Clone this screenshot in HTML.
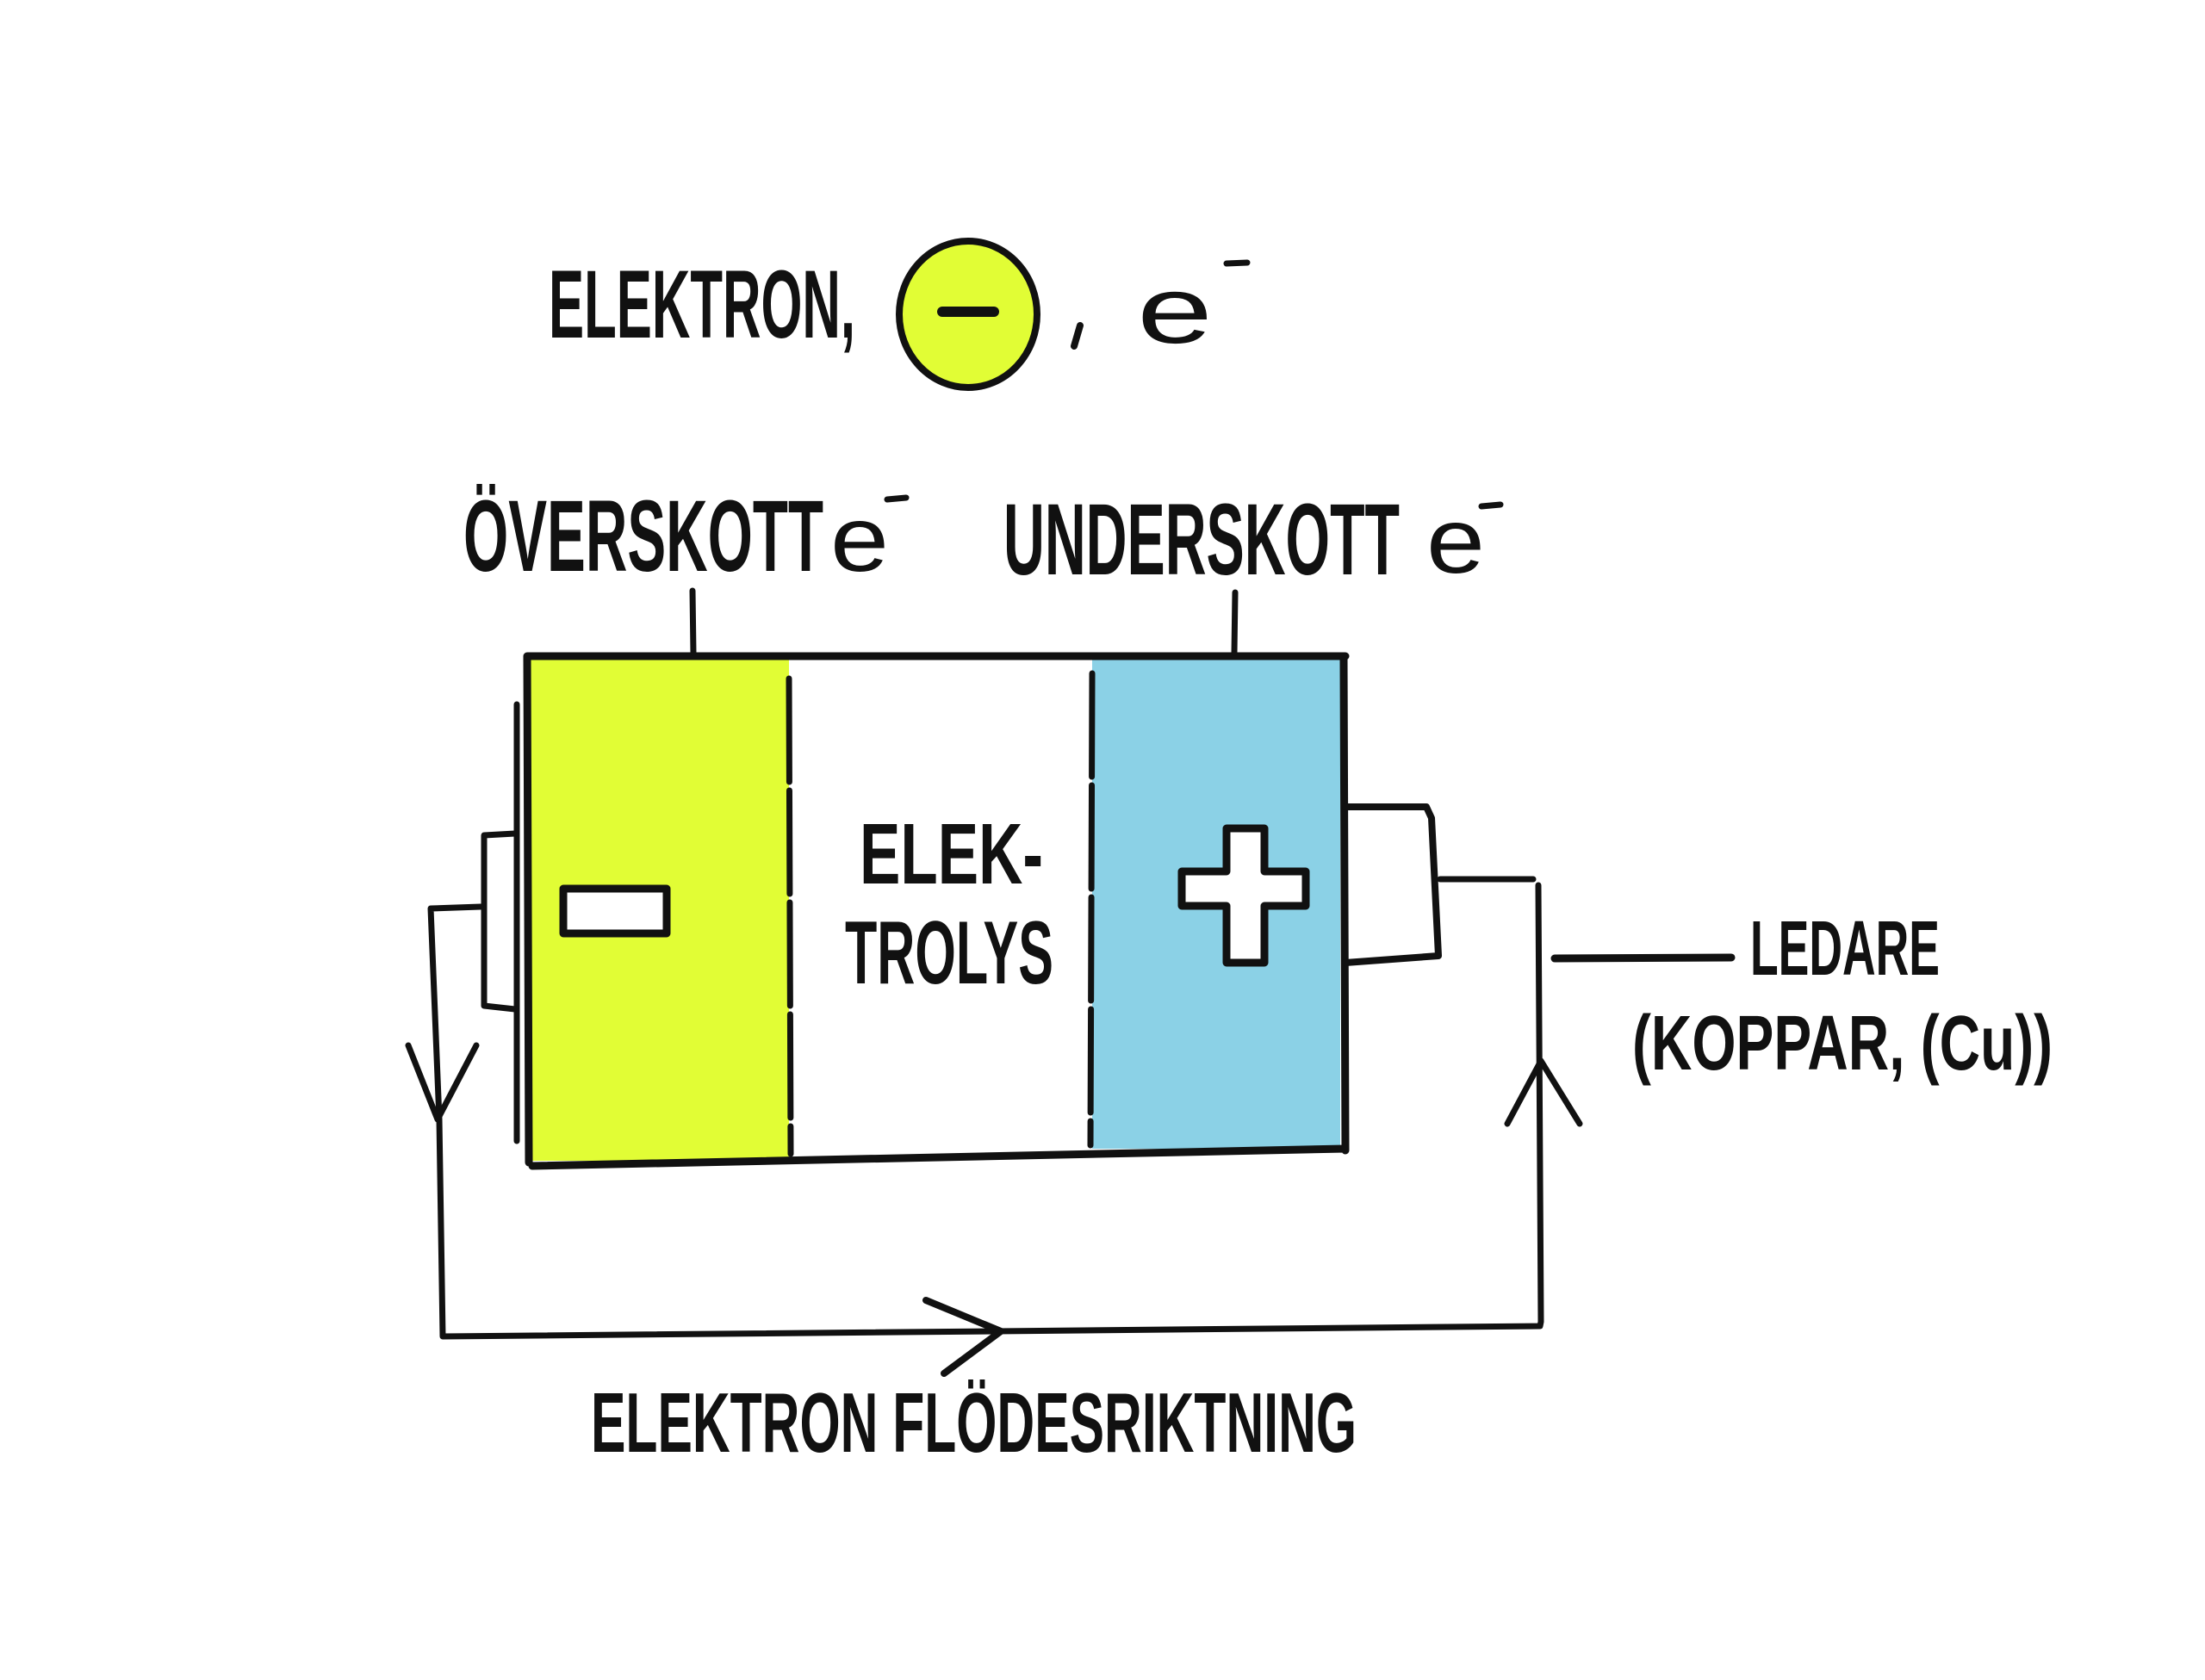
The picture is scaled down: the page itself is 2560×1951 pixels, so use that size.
<!DOCTYPE html>
<html><head><meta charset="utf-8"><style>
html,body{margin:0;padding:0;background:#fff;}
svg{display:block}
text{font-family:"Liberation Sans",sans-serif;font-weight:bold;fill:#111;}
</style></head><body>
<svg width="2560" height="1951" viewBox="0 0 2560 1951" xmlns="http://www.w3.org/2000/svg">
<rect width="2560" height="1951" fill="#fff"/>
<g stroke="#111" stroke-linecap="round" stroke-linejoin="round" fill="none">
<rect x="614" y="766" width="302" height="582" fill="#e1fd35" stroke="none"/>
<rect x="1268" y="766" width="288" height="568" fill="#8bd1e6" stroke="none"/>
<path d="M612 762 L1562 762 M612 762 L614 1350 M1560 764 L1562 1336 M618 1354 L1562 1334" stroke-width="9"/>
<path d="M916 788 L918 1340" stroke-width="7" stroke-dasharray="120 10"/>
<path d="M1268 782 L1266 1330" stroke-width="7" stroke-dasharray="120 10"/>
<path d="M804 686 L805 758 M1434 688 L1433 758" stroke-width="7"/>
<path d="M600 818 L600 1325" stroke-width="7"/>
<path d="M598 968 L562 970 L562 1168 L598 1172" stroke-width="7"/>
<rect x="654" y="1032" width="120" height="52" fill="#fff" stroke-width="9"/>
<path d="M1424 962 L1468 962 L1468 1012 L1516 1012 L1516 1052 L1468 1052 L1468 1118 L1424 1118 L1424 1052 L1372 1052 L1372 1012 L1424 1012 Z" fill="#fff" stroke-width="9"/>
<path d="M1562 937 L1656 937 L1662 950 L1670 1110 L1562 1118" stroke-width="8"/>
<path d="M1672 1021 L1780 1021 M1786 1028 L1789 1535 L1788 1540 L514 1552 L510 1300 L500 1055 L558 1053" stroke-width="7"/>
<path d="M474 1214 L508 1300 L553 1214" stroke-width="7"/>
<path d="M1750 1305 L1789 1232 L1834 1305" stroke-width="7"/>
<path d="M1075 1510 L1162 1546 L1096 1595" stroke-width="8"/>
<path d="M1805 1113 L2010 1112" stroke-width="9"/>
<ellipse cx="1124" cy="365" rx="80" ry="85" fill="#e1fd35" stroke-width="8"/>
<path d="M1094 362 L1154 362" stroke-width="12"/>
<path d="M1254 378 L1247 402" stroke-width="8"/>
<path d="M1424 306 L1448 305" stroke-width="7"/>
<path d="M1030 580 L1052 578" stroke-width="7"/>
<path d="M1720 588 L1742 586" stroke-width="7"/>
</g>
<text x="637" y="392" font-size="112" textLength="356" lengthAdjust="spacingAndGlyphs">ELEKTRON,</text>
<text x="1320" y="398" font-size="110" style="font-weight:normal" textLength="88" lengthAdjust="spacingAndGlyphs">e</text>
<text x="538" y="663" font-size="118" textLength="418" lengthAdjust="spacingAndGlyphs">ÖVERSKOTT</text>
<text x="964" y="663" font-size="108" style="font-weight:normal" textLength="68" lengthAdjust="spacingAndGlyphs">e</text>
<text x="1165" y="667" font-size="118" textLength="460" lengthAdjust="spacingAndGlyphs">UNDERSKOTT</text>
<text x="1656" y="665" font-size="108" style="font-weight:normal" textLength="68" lengthAdjust="spacingAndGlyphs">e</text>
<text x="998" y="1026" font-size="100" textLength="213" lengthAdjust="spacingAndGlyphs">ELEK-</text>
<text x="981" y="1142" font-size="104" textLength="242" lengthAdjust="spacingAndGlyphs">TROLYS</text>
<text x="2032" y="1132" font-size="90" textLength="220" lengthAdjust="spacingAndGlyphs">LEDARE</text>
<text x="1895" y="1242" font-size="90" textLength="488" lengthAdjust="spacingAndGlyphs">(KOPPAR, (Cu))</text>
<text x="686" y="1686" font-size="98" textLength="889" lengthAdjust="spacingAndGlyphs">ELEKTRON FLÖDESRIKTNING</text>
</svg>
</body></html>
